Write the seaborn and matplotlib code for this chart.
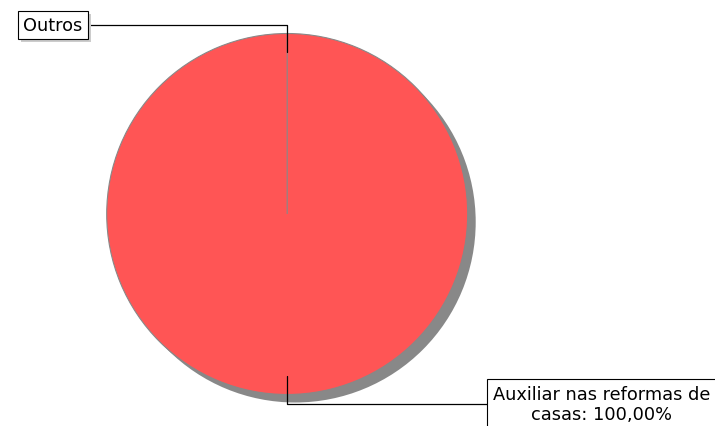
"""
Pie chart: share of activities (single full slice with an empty 'Outros').
"""

import textwrap
import numpy as np
import matplotlib
matplotlib.use("Agg")
import matplotlib.pyplot as plt
import matplotlib.patheffects as pe
from matplotlib.patches import Circle
import seaborn as sns

# Data
labels = ["Auxiliar nas reformas de casas", "Outros"]
values = [100.0, 0.0]
colors = ["#FF5555", "#5555FF"]

sns.set_theme(style="white")
plt.rcParams["font.family"] = ["DejaVu Sans"]

fig = plt.figure(figsize=(7.15, 4.27), dpi=100)
ax = fig.add_axes([0, 0, 1, 1])

# Pie geometry in pixel-like data units
cx, cy, R = 287.2, 212.0, 180.5

# Drop shadow behind the pie
ax.add_patch(Circle((cx + 8, cy - 8), R, facecolor="#888888", edgecolor="none", zorder=0))

wedges, _ = ax.pie(values, colors=colors, startangle=90, counterclock=True,
                   center=(cx, cy), radius=R,
                   wedgeprops=dict(edgecolor="#888888", linewidth=0.8, zorder=1))

ax.set_xlim(0, 715)
ax.set_ylim(0, 427)
ax.set_aspect("equal")
ax.axis("off")

total = sum(values)
label_pos = {"Outros": (53, 401), "Auxiliar nas reformas de casas": (601.5, 22)}

for w, lab, val in zip(wedges, labels, values):
    theta = np.deg2rad((w.theta1 + w.theta2) / 2)
    px = cx + 0.9 * R * np.cos(theta)
    py = cy + 0.9 * R * np.sin(theta)
    share = val / total * 100
    txt = lab if share == 0 else f"{lab}: {share:.2f}%".replace(".", ",")
    txt = textwrap.fill(txt, width=24)
    t = ax.annotate(txt, xy=(px, py), xytext=label_pos[lab],
                    textcoords="data", ha="center", va="center",
                    multialignment="center", fontsize=12.8, color="black",
                    bbox=dict(boxstyle="square,pad=0.3", facecolor="white",
                              edgecolor="black", linewidth=0.8),
                    arrowprops=dict(arrowstyle="-", color="black", linewidth=0.9,
                                    shrinkA=0, shrinkB=0,
                                    connectionstyle="angle,angleA=0,angleB=90,rad=0"),
                    zorder=5)
    t.get_bbox_patch().set_path_effects([
        pe.SimplePatchShadow(offset=(2.2, -2.2), shadow_rgbFace="#cccccc", alpha=1.0),
        pe.Normal(),
    ])

fig.savefig("out.png", dpi=100)
